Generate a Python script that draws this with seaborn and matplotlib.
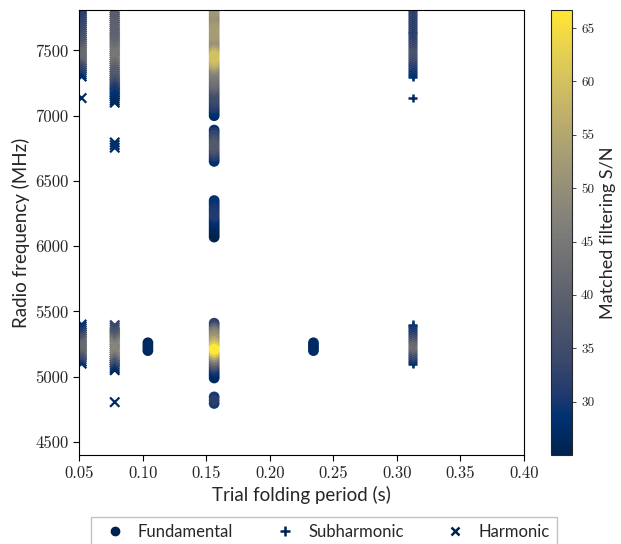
import numpy as np
import pandas as pd
import matplotlib
matplotlib.use("Agg")
import matplotlib.pyplot as plt
import seaborn as sns
from matplotlib.lines import Line2D
from matplotlib.colors import Normalize
from matplotlib.cm import ScalarMappable

# ---------------- data ----------------
kinds = ["Fundamental", "Subharmonic", "Harmonic"]

# ---- Fundamental, P = 0.1563 s ----
fund_p156_a_freq = [7000, 7020, 7040, 7060, 7080, 7100, 7120, 7140, 7160, 7180, 7200, 7220,
                    7240, 7260, 7280, 7300, 7320, 7340, 7360, 7380, 7400, 7420, 7440, 7460,
                    7480, 7500, 7520, 7540, 7560, 7580, 7600, 7620, 7640, 7660, 7680, 7700,
                    7720, 7740, 7760, 7780, 7800, 7820]
fund_p156_a_snr = [27, 28, 29, 31, 32, 33, 34, 35, 35, 36, 38, 40,
                   42, 43, 44, 45, 46, 47, 50, 53, 56, 58, 60, 60,
                   57, 54, 51, 50, 50, 51, 52, 53, 53, 53, 52, 51,
                   50, 50, 50, 51, 52, 52]
fund_p156_b_freq = [6650, 6670, 6690, 6710, 6730, 6750, 6770, 6790, 6810, 6830, 6850, 6870, 6890]
fund_p156_b_snr = [28, 29, 31, 33, 35, 37, 38, 37, 36, 34, 33, 31, 29]
fund_p156_c_freq = [6070, 6090, 6110, 6130, 6150, 6170, 6190, 6210, 6230, 6250, 6270, 6290,
                    6310, 6330, 6350]
fund_p156_c_snr = [25, 25, 25, 26, 26, 27, 28, 29, 31, 31, 30, 30, 29, 29, 29]
fund_p156_d_freq = [4990, 5010, 5030, 5050, 5070, 5090, 5110, 5130, 5150, 5170, 5190, 5210,
                    5230, 5250, 5270, 5290, 5310, 5330, 5350, 5370, 5390, 5410]
fund_p156_d_snr = [27, 27, 28, 30, 33, 37, 41, 45, 50, 56, 62, 67,
                   62, 58, 55, 52, 50, 48, 45, 40, 35, 32]
fund_p156_e_freq = [4795, 4820, 4845]
fund_p156_e_snr = [30, 32, 30]
# ---- Fundamental, P = 0.1042 s and P = 0.2344 s ----
fund_p104_freq = [5200, 5220, 5240, 5260]
fund_p104_snr = [26, 27, 27, 26]
fund_p234_freq = [5200, 5220, 5240, 5260]
fund_p234_snr = [27, 27, 27, 27]

# ---- Harmonic, P = 0.0521 s ----
harm_p052_a_freq = [7300, 7315, 7330, 7345, 7360, 7375, 7390, 7405, 7420, 7435, 7450, 7465,
                    7480, 7495, 7510, 7525, 7540, 7555, 7570, 7585, 7600, 7615, 7630, 7645,
                    7660, 7675, 7690, 7705, 7720, 7735, 7750, 7765, 7780, 7795, 7810, 7825]
harm_p052_a_snr = [27, 28, 29, 31, 32, 33, 34, 35, 37, 39, 41, 42,
                   42, 42, 41, 40, 39, 38, 37, 37, 36, 36, 35, 35,
                   35, 34, 34, 33, 33, 33, 32, 32, 32, 32, 32, 32]
harm_p052_single_freq = [7135]
harm_p052_single_snr = [27]
harm_p052_b_freq = [5100, 5115, 5130, 5145, 5160, 5175, 5190, 5205, 5220, 5235, 5250, 5265,
                    5280, 5295, 5310, 5325, 5340, 5355, 5370, 5385, 5400]
harm_p052_b_snr = [27, 29, 31, 33, 35, 36, 38, 40, 41, 42, 42, 41,
                   39, 37, 36, 34, 32, 31, 30, 29, 29]
# ---- Harmonic, P = 0.0781 s ----
harm_p078_a_freq = [7100, 7115, 7130, 7145, 7160, 7175, 7190, 7205, 7220, 7235, 7250, 7265,
                    7280, 7295, 7310, 7325, 7340, 7355, 7370, 7385, 7400, 7415, 7430, 7445,
                    7460, 7475, 7490, 7505, 7520, 7535, 7550, 7565, 7580, 7595, 7610, 7625,
                    7640, 7655, 7670, 7685, 7700, 7715, 7730, 7745, 7760, 7775, 7790, 7805,
                    7820]
harm_p078_a_snr = [26, 27, 27, 27, 28, 28, 29, 29, 30, 30, 31, 32,
                   34, 35, 36, 37, 38, 38, 39, 39, 40, 41, 42, 43,
                   44, 45, 45, 44, 43, 43, 42, 41, 41, 40, 40, 40,
                   40, 40, 40, 40, 40, 40, 39, 39, 39, 39, 39, 39,
                   39]
harm_p078_b_freq = [6755, 6775, 6795]
harm_p078_b_snr = [27, 28, 27]
harm_p078_c_freq = [5050, 5065, 5080, 5095, 5110, 5125, 5140, 5155, 5170, 5185, 5200, 5215,
                    5230, 5245, 5260, 5275, 5290, 5305, 5320, 5335, 5350, 5365, 5380, 5395]
harm_p078_c_snr = [26, 27, 29, 30, 33, 35, 37, 39, 42, 44, 46, 47,
                   48, 47, 46, 44, 42, 40, 38, 37, 36, 35, 34, 33]
harm_p078_single_freq = [4805]
harm_p078_single_snr = [27]

# ---- Subharmonic, P = 0.3126 s ----
sub_p313_a_freq = [7300, 7315, 7330, 7345, 7360, 7375, 7390, 7405, 7420, 7435, 7450, 7465,
                   7480, 7495, 7510, 7525, 7540, 7555, 7570, 7585, 7600, 7615, 7630, 7645,
                   7660, 7675, 7690, 7705, 7720, 7735, 7750, 7765, 7780, 7795, 7810, 7825]
sub_p313_a_snr = [28, 28, 29, 29, 30, 31, 31, 32, 33, 34, 35, 35,
                  36, 36, 35, 34, 34, 33, 33, 32, 32, 32, 32, 32,
                  32, 32, 32, 32, 32, 32, 32, 32, 32, 32, 32, 32]
sub_p313_single_freq = [7135]
sub_p313_single_snr = [27]
sub_p313_b_freq = [5100, 5115, 5130, 5145, 5160, 5175, 5190, 5205, 5220, 5235, 5250, 5265,
                   5280, 5295, 5310, 5325, 5340, 5355, 5370, 5385, 5400]
sub_p313_b_snr = [27, 28, 30, 32, 34, 35, 38, 40, 42, 42, 41, 39,
                  37, 35, 34, 32, 31, 30, 30, 29, 29]

streaks = [
    ("Fundamental", 0.1563, fund_p156_a_freq, fund_p156_a_snr),
    ("Fundamental", 0.1563, fund_p156_b_freq, fund_p156_b_snr),
    ("Fundamental", 0.1563, fund_p156_c_freq, fund_p156_c_snr),
    ("Fundamental", 0.1563, fund_p156_d_freq, fund_p156_d_snr),
    ("Fundamental", 0.1563, fund_p156_e_freq, fund_p156_e_snr),
    ("Fundamental", 0.1042, fund_p104_freq, fund_p104_snr),
    ("Fundamental", 0.2344, fund_p234_freq, fund_p234_snr),
    ("Harmonic", 0.0521, harm_p052_a_freq, harm_p052_a_snr),
    ("Harmonic", 0.0521, harm_p052_single_freq, harm_p052_single_snr),
    ("Harmonic", 0.0521, harm_p052_b_freq, harm_p052_b_snr),
    ("Harmonic", 0.0781, harm_p078_a_freq, harm_p078_a_snr),
    ("Harmonic", 0.0781, harm_p078_b_freq, harm_p078_b_snr),
    ("Harmonic", 0.0781, harm_p078_c_freq, harm_p078_c_snr),
    ("Harmonic", 0.0781, harm_p078_single_freq, harm_p078_single_snr),
    ("Subharmonic", 0.3126, sub_p313_a_freq, sub_p313_a_snr),
    ("Subharmonic", 0.3126, sub_p313_single_freq, sub_p313_single_snr),
    ("Subharmonic", 0.3126, sub_p313_b_freq, sub_p313_b_snr),
]

rows = []
for kind, period, freqs, snrs in streaks:
    for f, s in zip(freqs, snrs):
        rows.append((kind, period, f, s))
df = pd.DataFrame(rows, columns=["kind", "period", "freq", "snr"])

snr_min, snr_max = 25.0, 66.7
cbar_ticks = [30, 35, 40, 45, 50, 55, 60, 65]
x_ticks = [0.05, 0.10, 0.15, 0.20, 0.25, 0.30, 0.35, 0.40]
y_ticks = [4500, 5000, 5500, 6000, 6500, 7000, 7500]

# ---------------- figure ----------------
sns.set_style("ticks")
plt.rcParams["font.family"] = ["Lato", "DejaVu Sans"]

W, H = 621, 544
fig = plt.figure(figsize=(W / 100, H / 100), dpi=100)
ax = fig.add_axes([79 / W, (H - 455) / H, 445 / W, 445 / H])
cax = fig.add_axes([551 / W, (H - 455) / H, 21 / W, 445 / H])

norm = Normalize(snr_min, snr_max)
styles = {
    "Fundamental": dict(marker="o", s=60, linewidth=0, edgecolor="none"),
    "Harmonic": dict(marker="x", s=45, linewidth=1.6),
    "Subharmonic": dict(marker="+", s=40, linewidth=1.8),
}
for kind in ["Fundamental", "Harmonic", "Subharmonic"]:
    sub = df[df["kind"] == kind].sort_values("snr")
    sns.scatterplot(data=sub, x="period", y="freq", hue="snr", palette="cividis",
                    hue_norm=norm, legend=False, ax=ax, **styles[kind])

ax.set_xlim(0.05, 0.40)
ax.set_ylim(4400, 7810)
ax.set_xticks(x_ticks)
ax.set_xticklabels([f"{v:.2f}" for v in x_ticks])
ax.set_yticks(y_ticks)
ax.set_xlabel("Trial folding period (s)", fontsize=13.5)
ax.set_ylabel("Radio frequency (MHz)", fontsize=13.5)
ax.tick_params(labelsize=12, labelfontfamily="cmr10", length=4, width=0.8, color="black")
for sp in ax.spines.values():
    sp.set_color("black")
    sp.set_linewidth(0.8)

sm = ScalarMappable(norm=norm, cmap="cividis")
cb = fig.colorbar(sm, cax=cax)
cb.set_ticks(cbar_ticks)
cb.ax.tick_params(labelsize=9.5, labelfontfamily="cmr10", length=3, width=0.6)
cb.set_label("Matched filtering S/N", fontsize=13)
cb.outline.set_linewidth(0.8)

navy = plt.get_cmap("cividis")(0.0)
handles = [
    Line2D([], [], marker="o", linestyle="", color=navy, markersize=6),
    Line2D([], [], marker="+", linestyle="", color=navy, markersize=7, markeredgewidth=1.8),
    Line2D([], [], marker="x", linestyle="", color=navy, markersize=6, markeredgewidth=1.8),
]
fig.legend(handles, kinds, loc="upper center", bbox_to_anchor=(324 / W, 1 - 517 / H),
           ncol=3, fontsize=12, frameon=True, fancybox=False, edgecolor="0.7",
           columnspacing=2.1, handletextpad=0.4, borderpad=0.4, borderaxespad=0.0)

fig.savefig("out.png", dpi=100)
